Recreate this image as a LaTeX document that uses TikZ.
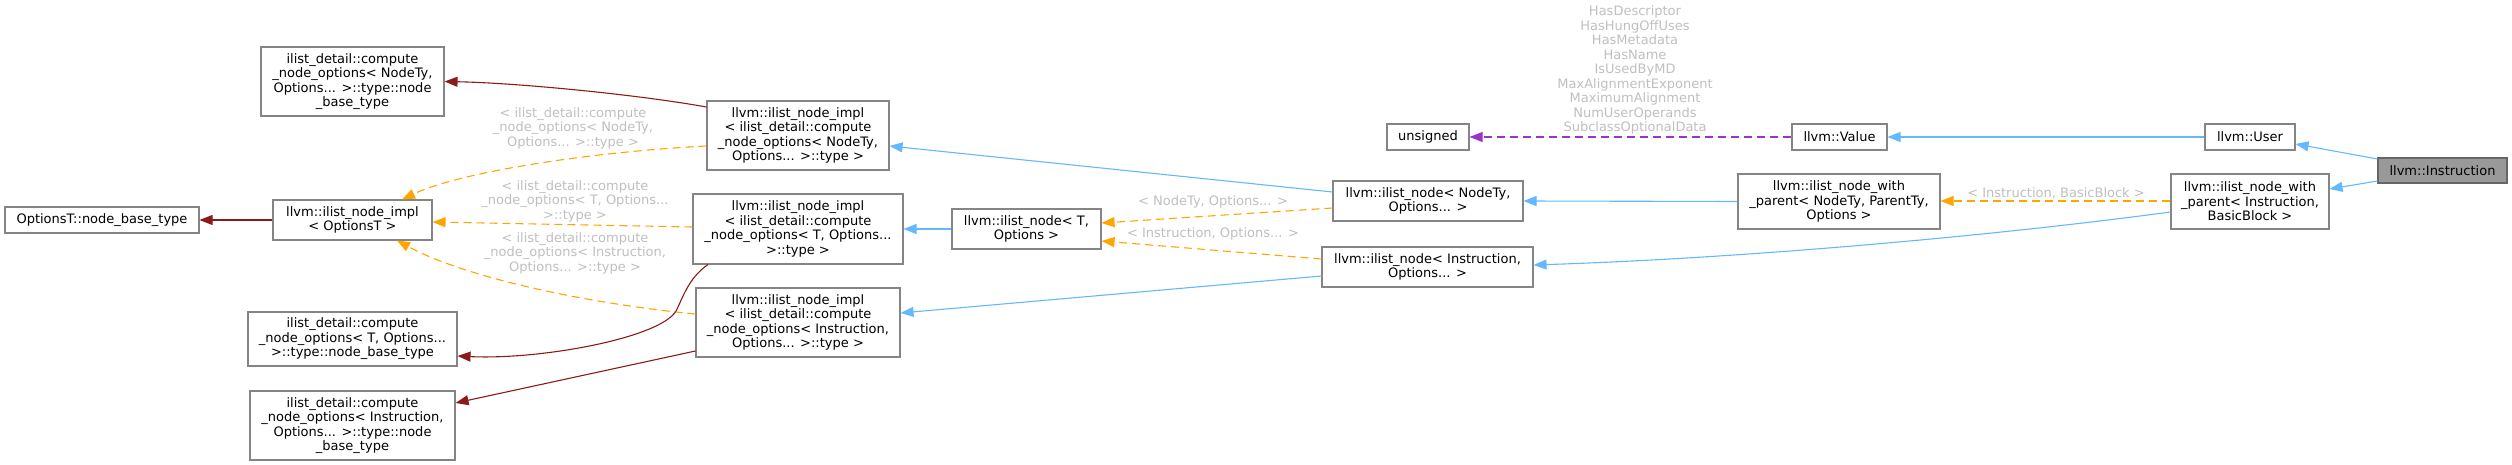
\documentclass[tikz,border=0pt]{standalone}
\usepackage{fontspec}
\setmainfont{DejaVu Sans}
\usetikzlibrary{arrows.meta}
\definecolor{edgeblue}{HTML}{63B8FF}
\definecolor{edgeorange}{HTML}{FFA500}
\definecolor{edgepurple}{HTML}{9A32CD}
\definecolor{edgered}{HTML}{8B1A1A}
\definecolor{nodeborder}{HTML}{858585}
\definecolor{labelgray}{HTML}{BFBFBF}
\definecolor{curfill}{HTML}{999999}
\definecolor{curborder}{HTML}{666666}
\begin{document}
\begin{tikzpicture}[x=1pt,y=-1pt,
  every node/.style={font=\fontsize{13}{14.5}\selectfont},
  cls/.style={draw=nodeborder, fill=white, line width=1.1pt, inner sep=0pt, align=center},
  cur/.style={cls, fill=curfill, draw=curborder},
  lbl/.style={text=labelgray, align=center, inner sep=0pt},
  conn/.style={line width=1.1pt, -{Triangle[length=13pt,width=10pt]}},
  pub/.style={conn, draw=edgeblue},
  tmpl/.style={conn, draw=edgeorange, dash pattern=on 8pt off 5pt},
  usage/.style={conn, draw=edgepurple, dash pattern=on 8pt off 5pt},
  priv/.style={conn, draw=edgered},
]
\useasboundingbox (0,0) rectangle (2512,465);

% nodes
\node[cls, minimum width=194pt, minimum height=26pt] (obt) at (102,220) {OptionsT::node\_base\_type};
\node[cls, minimum width=159pt, minimum height=40pt] (implO) at (352.5,220) {llvm::ilist\_node\_impl\\< OptionsT >};
\node[cls, minimum width=183pt, minimum height=69pt] (cnNT) at (352.5,81.5) {ilist\_detail::compute\\\_node\_options< NodeTy,\\Options... >::type::node\\\_base\_type};
\node[cls, minimum width=209pt, minimum height=54pt] (cnT) at (352.5,339) {ilist\_detail::compute\\\_node\_options< T, Options...\\>::type::node\_base\_type};
\node[cls, minimum width=205pt, minimum height=69pt] (cnI) at (352.5,425.5) {ilist\_detail::compute\\\_node\_options< Instruction,\\Options... >::type::node\\\_base\_type};
\node[cls, minimum width=182pt, minimum height=69pt] (implNT) at (798,135.5) {llvm::ilist\_node\_impl\\< ilist\_detail::compute\\\_node\_options< NodeTy,\\Options... >::type >};
\node[cls, minimum width=210pt, minimum height=70pt] (implT) at (798,229) {llvm::ilist\_node\_impl\\< ilist\_detail::compute\\\_node\_options< T, Options...\\>::type >};
\node[cls, minimum width=204pt, minimum height=69pt] (implI) at (798,322.5) {llvm::ilist\_node\_impl\\< ilist\_detail::compute\\\_node\_options< Instruction,\\Options... >::type >};
\node[cls, minimum width=149pt, minimum height=40pt] (inT) at (1026.5,229) {llvm::ilist\_node< T,\\Options >};
\node[cls, minimum width=190pt, minimum height=40pt] (inNT) at (1428,201) {llvm::ilist\_node< NodeTy,\\Options... >};
\node[cls, minimum width=211pt, minimum height=40pt] (inI) at (1427.5,267) {llvm::ilist\_node< Instruction,\\Options... >};
\node[cls, minimum width=82pt, minimum height=26pt] (uns) at (1428,137) {unsigned};
\node[cls, minimum width=95pt, minimum height=26pt] (val) at (1839.5,137) {llvm::Value};
\node[cls, minimum width=202pt, minimum height=55pt] (wpNT) at (1839,201.5) {llvm::ilist\_node\_with\\\_parent< NodeTy, ParentTy,\\Options >};
\node[cls, minimum width=90pt, minimum height=26pt] (user) at (2250,137) {llvm::User};
\node[cls, minimum width=158pt, minimum height=55pt] (wpI) at (2250,201.5) {llvm::ilist\_node\_with\\\_parent< Instruction,\\BasicBlock >};
\node[cur, minimum width=129pt, minimum height=25pt] (instr) at (2442.5,170.5) {llvm::Instruction};

% connectors
\draw[pub] ([yshift=11.5pt]instr.west) -- ([yshift=-7pt]user.east);
\draw[pub] ([yshift=-10.5pt]instr.west) -- ([yshift=12.5pt]wpI.east);
\draw[pub] (user.west) -- (val.east);
\draw[usage] (val.west) -- (uns.east)
  node[lbl] at (1635,70) {HasDescriptor\\HasHungOffUses\\HasMetadata\\HasName\\IsUsedByMD\\MaxAlignmentExponent\\MaximumAlignment\\NumUserOperands\\SubclassOptionalData};
\draw[tmpl] ([yshift=0.5pt]wpI.west) -- ([yshift=0.5pt]wpNT.east)
  node[lbl] at (2056,193) {< Instruction, BasicBlock >};
\draw[pub] ([yshift=-10.5pt]wpI.west) .. controls (2000,235) and (1750,258) .. ([yshift=2pt]inI.east);
\draw[pub] (wpNT.west) -- (inNT.east);
\draw[tmpl] ([yshift=-7pt]inNT.west) -- ([yshift=6pt]inT.east)
  node[lbl] at (1213,202) {< NodeTy, Options... >};
\draw[tmpl] ([yshift=8pt]inI.west) -- ([yshift=-12pt]inT.east)
  node[lbl] at (1213,234) {< Instruction, Options... >};
\draw[pub] ([yshift=9pt]inNT.west) -- ([yshift=-10.5pt]implNT.east);
\draw[pub] (inT.west) -- (implT.east);
\draw[pub] ([yshift=-9pt]inI.west) -- ([yshift=9.5pt]implI.east);
\draw[tmpl] ([yshift=-10.5pt]implNT.west) .. controls (590,152) and (460,172) .. ([xshift=49.5pt]implO.north)
  node[lbl] at (573,128) {< ilist\_detail::compute\\\_node\_options< NodeTy,\\Options... >::type >};
\draw[tmpl] ([yshift=2pt]implT.west) -- ([yshift=-2pt]implO.east)
  node[lbl] at (575,201) {< ilist\_detail::compute\\\_node\_options< T, Options...\\>::type >};
\draw[tmpl] ([yshift=8.5pt]implI.west) .. controls (600,305) and (470,280) .. ([xshift=44.5pt]implO.south)
  node[lbl] at (575,253) {< ilist\_detail::compute\\\_node\_options< Instruction,\\Options... >::type >};
\draw[priv] (implO.west) -- (obt.east);
\draw[priv] ([yshift=28.5pt]implNT.west) .. controls (640,95) and (520,83) .. (cnNT.east);
\draw[priv] ([xshift=-90pt]implT.south) .. controls (688,278) and (682,300) .. (676,311)
  .. controls (660,338) and (540,360) .. ([yshift=-17pt]cnT.east);
\draw[priv] ([yshift=-28.5pt]implI.west) -- ([yshift=22.5pt]cnI.east);
\end{tikzpicture}
\end{document}
